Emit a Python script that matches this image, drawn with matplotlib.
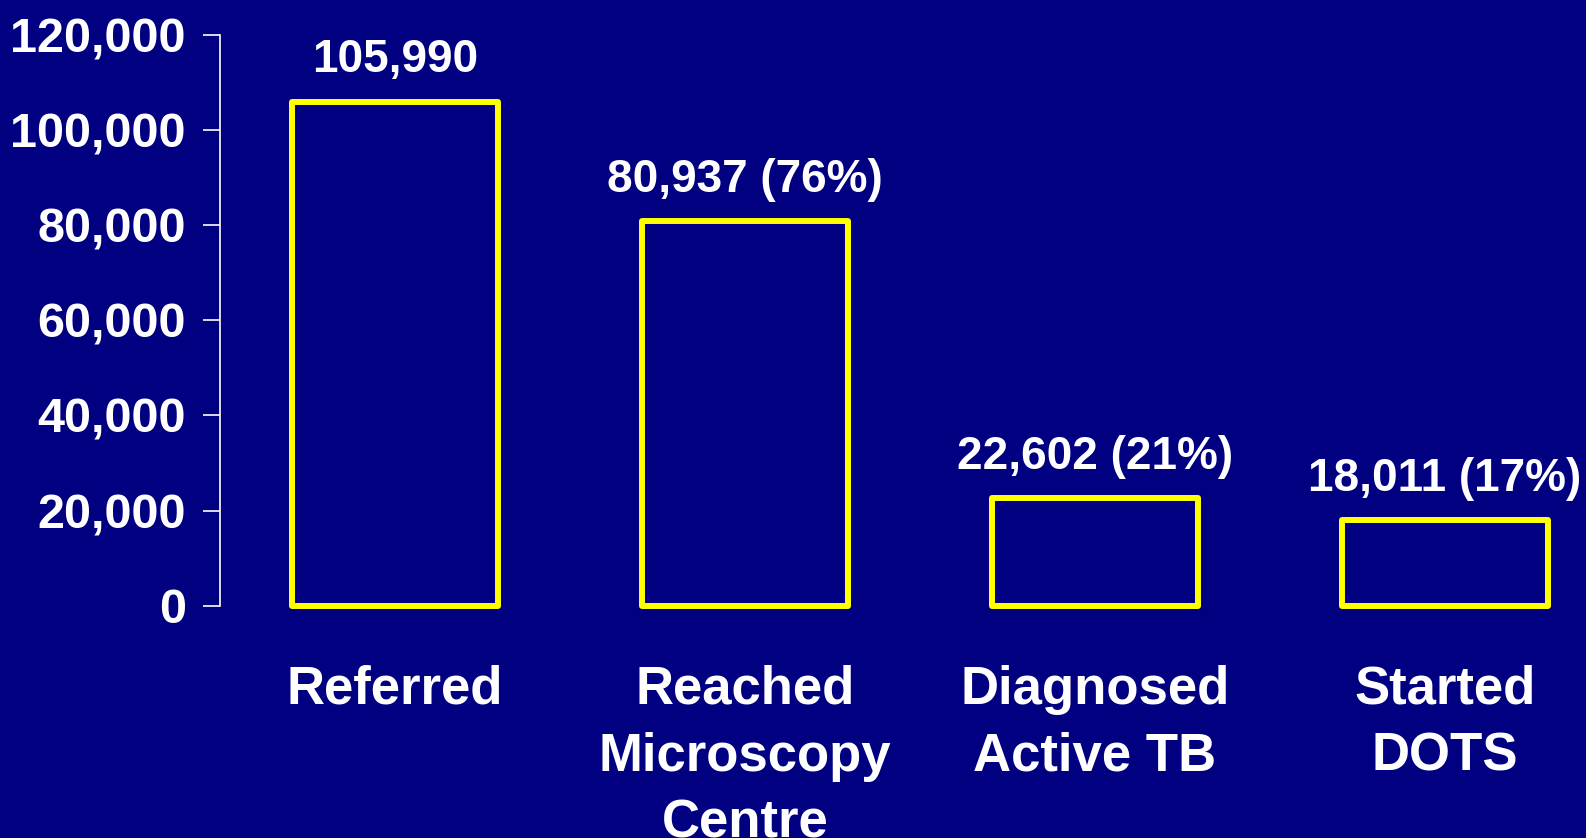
import matplotlib
matplotlib.use("Agg")
import matplotlib.pyplot as plt
from matplotlib.ticker import FuncFormatter

# data
categories = ["Referred", "Reached\nMicroscopy\nCentre", "Diagnosed\nActive TB", "Started\nDOTS"]
counts = [105990, 80937, 22602, 18011]
value_labels = ["105,990", "80,937 (76%)", "22,602 (21%)", "18,011 (17%)"]
yticks = [0, 20000, 40000, 60000, 80000, 100000, 120000]

navy = "#000080"
yellow = "#FFFF00"

fig = plt.figure(figsize=(15.86, 8.38), dpi=100, facecolor=navy)
# axes placed in pixels (1586 x 838), runs past the right edge on purpose
ax = fig.add_axes([220 / 1586, (838 - 605.7) / 838, 1400 / 1586, 570.7 / 838])
ax.set_facecolor(navy)

x = list(range(len(categories)))
ax.bar(x, counts, width=0.59, facecolor="none", edgecolor=yellow,
       linewidth=4.3, joinstyle="round", clip_on=False)

ax.set_xlim(-0.5, 3.5)
ax.set_ylim(0, 120000)

for s in ["top", "right", "bottom"]:
    ax.spines[s].set_visible(False)
ax.spines["left"].set_color("white")
ax.spines["left"].set_linewidth(1.2)

ax.set_xticks([])
ax.set_yticks(yticks)
ax.yaxis.set_major_formatter(FuncFormatter(lambda v, p: f"{int(v):,}"))
ax.tick_params(axis="y", colors="white", length=12, width=1.2, pad=12.5)
for lab in ax.get_yticklabels():
    lab.set_fontfamily("Liberation Sans")
    lab.set_fontweight("bold")
    lab.set_fontsize(35)

# value labels above the bars
for xi, c, t in zip(x, counts, value_labels):
    ax.annotate(t, xy=(xi, c), xytext=(0, 21), textcoords="offset points",
                ha="center", va="baseline", color="white", fontsize=33,
                fontweight="bold", family="Liberation Sans", annotation_clip=False)

# category names under the bars, one line at a time
# (the third line runs off the bottom edge, as on the original slide)
for xi, name in zip(x, categories):
    for j, line in enumerate(name.split("\n")):
        ax.annotate(line, xy=(xi, 0), xytext=(0, -70.5 - 48.2 * j),
                    textcoords="offset points", ha="center", va="baseline",
                    color="white", fontsize=38, fontweight="bold",
                    family="Liberation Sans", annotation_clip=False)

fig.savefig("out.png", dpi=100, facecolor=navy)
